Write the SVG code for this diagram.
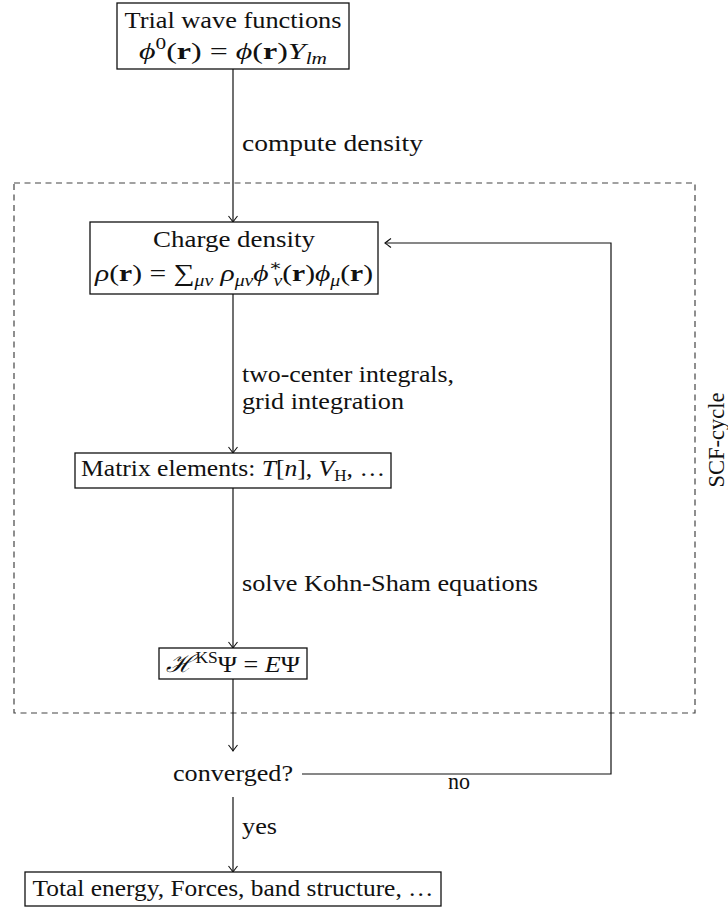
<svg xmlns="http://www.w3.org/2000/svg" width="728" height="915" viewBox="0 0 728 915">
  <style>
    text { font-family: "Liberation Serif", "DejaVu Serif", serif; font-size: 24px; fill: #111; }
    .m { text-anchor: middle; }
    .i { font-style: italic; }
    .b { font-weight: bold; }
    .sub { font-size: 16px; }
    .box { fill: #fff; stroke: #111; stroke-width: 1.3; }
    .wire { fill: none; stroke: #111; stroke-width: 1.2; }
    .cycle { fill: none; stroke: #444; stroke-width: 1.2; stroke-dasharray: 6 4.5; }
  </style>
  <defs>
    <marker id="arr" viewBox="-8 -6 10 12" markerWidth="10" markerHeight="12" refX="0" refY="0" orient="auto" markerUnits="userSpaceOnUse">
      <path d="M -6 -4.5 Q -1.5 -1 0 0 Q -1.5 1 -6 4.5" fill="none" stroke="#111" stroke-width="1.1"/>
    </marker>
  </defs>

  <!-- SCF cycle frame -->
  <g id="scf-cycle">
    <rect class="cycle" x="14" y="183" width="681" height="530"/>
    <text class="m" transform="translate(724 440) rotate(-90)" textLength="95" lengthAdjust="spacingAndGlyphs">SCF-cycle</text>
  </g>

  <!-- connectors and their labels -->
  <g id="connectors">
    <line class="wire" x1="233" y1="69" x2="233" y2="222" marker-end="url(#arr)"/>
    <line class="wire" x1="233" y1="294" x2="233" y2="453" marker-end="url(#arr)"/>
    <line class="wire" x1="233" y1="488" x2="233" y2="648" marker-end="url(#arr)"/>
    <line class="wire" x1="233" y1="679" x2="233" y2="751" marker-end="url(#arr)"/>
    <line class="wire" x1="233" y1="797" x2="233" y2="872" marker-end="url(#arr)"/>
    <polyline class="wire" points="302,774 611,774 611,243 385,243" marker-end="url(#arr)"/>
    <text x="242" y="151" textLength="181" lengthAdjust="spacingAndGlyphs">compute density</text>
    <text x="242" y="382" textLength="212" lengthAdjust="spacingAndGlyphs">two-center integrals,</text>
    <text x="242" y="409" textLength="162" lengthAdjust="spacingAndGlyphs">grid integration</text>
    <text x="242" y="591" textLength="296" lengthAdjust="spacingAndGlyphs">solve Kohn-Sham equations</text>
    <text x="242" y="834" textLength="35" lengthAdjust="spacingAndGlyphs">yes</text>
    <text x="448" y="789" textLength="22" lengthAdjust="spacingAndGlyphs">no</text>
  </g>

  <g id="trial">
    <rect class="box" x="117" y="3" width="232" height="66"/>
    <text class="m" x="233" y="28" textLength="217" lengthAdjust="spacingAndGlyphs">Trial wave functions</text>
    <text class="m" x="233" y="59" textLength="188" lengthAdjust="spacingAndGlyphs"><tspan class="i">ϕ</tspan><tspan class="sub" dy="-10">0</tspan><tspan dy="10">(</tspan><tspan class="b">r</tspan>) = <tspan class="i">ϕ</tspan>(<tspan class="b">r</tspan>)<tspan class="i">Y</tspan><tspan class="sub i" dy="5">lm</tspan></text>
  </g>

  <g id="density">
    <rect class="box" x="90" y="222" width="288" height="72"/>
    <text class="m" x="234" y="247" textLength="162" lengthAdjust="spacingAndGlyphs">Charge density</text>
    <text class="m" x="234" y="281" textLength="278" lengthAdjust="spacingAndGlyphs"><tspan class="i">ρ</tspan>(<tspan class="b">r</tspan>) = ∑<tspan class="sub i" dy="5">μν</tspan><tspan dy="-5"> </tspan><tspan class="i">ρ</tspan><tspan class="sub i" dy="5">μν</tspan><tspan class="i" dy="-5">ϕ</tspan><tspan class="sub" dy="-10">∗</tspan><tspan class="sub i" dx="-7" dy="15">ν</tspan><tspan dy="-5">(</tspan><tspan class="b">r</tspan>)<tspan class="i">ϕ</tspan><tspan class="sub i" dy="5">μ</tspan><tspan dy="-5">(</tspan><tspan class="b">r</tspan>)</text>
  </g>

  <g id="matrix">
    <rect class="box" x="75" y="453" width="316" height="35"/>
    <text class="m" x="233" y="476" textLength="304" lengthAdjust="spacingAndGlyphs">Matrix elements: <tspan class="i">T</tspan>[<tspan class="i">n</tspan>], <tspan class="i">V</tspan><tspan class="sub" dy="5">H</tspan><tspan dy="-5">, …</tspan></text>
  </g>

  <g id="kohn-sham">
    <rect class="box" x="159" y="648" width="148" height="31"/>
    <text class="m" x="233" y="672" textLength="134" lengthAdjust="spacingAndGlyphs"><tspan font-family="DejaVu Serif" font-style="italic">ℋ</tspan><tspan class="sub" dx="2" dy="-9">KS</tspan><tspan dy="9">Ψ = </tspan><tspan class="i">E</tspan>Ψ</text>
  </g>

  <g id="converged">
    <text class="m" x="233" y="781" textLength="120" lengthAdjust="spacingAndGlyphs">converged?</text>
  </g>

  <g id="results">
    <rect class="box" x="25" y="872" width="416" height="34"/>
    <text class="m" x="233" y="896" textLength="401" lengthAdjust="spacingAndGlyphs">Total energy, Forces, band structure, …</text>
  </g>
</svg>
